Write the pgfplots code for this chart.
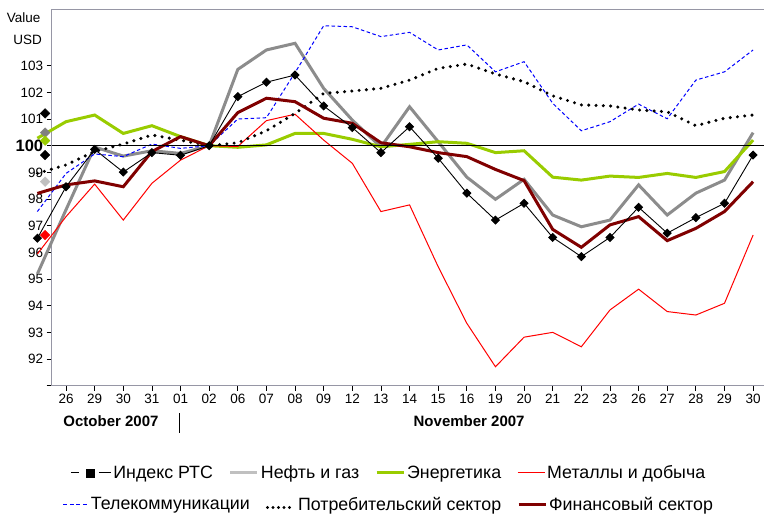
\documentclass[border=0pt]{standalone}
\usepackage{pgfplots}
\pgfplotsset{compat=1.18}
\usepackage{fontspec}
\setmainfont{Liberation Sans}
\definecolor{oilgray}{RGB}{140,140,140}
\definecolor{lightgr}{RGB}{192,192,192}
\definecolor{energy}{RGB}{153,204,0}
\definecolor{finred}{RGB}{128,0,0}
\definecolor{axgray}{RGB}{150,150,165}
\begin{document}
\begin{tikzpicture}
\path[use as bounding box] (-51.7pt,-130.3pt) rectangle (712.3pt,385.7pt);
\pgfplotsset{
  mainax/.style={scale only axis, width=714.3pt, height=376pt,
    xmin=-0.5, xmax=24.45, ymin=91, ymax=105.1, at={(0pt,0pt)}, anchor=south west},
  lgd/.style={font=\fontsize{17.8}{19}\selectfont, draw=none, fill=none, anchor=center,
    /tikz/every even column/.append style={column sep=14pt}},
}
\begin{axis}[mainax, clip=false,
  axis line style={axgray, line width=1pt},
  tick align=outside, major tick length=5pt,
  xtick pos=bottom, ytick pos=left,
  tick style={black, line width=0.8pt},
  tick label style={font=\fontsize{13.5}{15}\selectfont},
  ytick={91,92,...,103},
  yticklabels={,92,93,94,95,96,97,98,99,{\fontsize{16.5}{18}\selectfont\bfseries 100},101,102,103},
  xtick={0,1,...,24},
  xticklabels={26,29,30,31,01,02,06,07,08,09,12,13,14,15,16,19,20,21,22,23,26,27,28,29,30},
]
% Нефть и газ
\addplot[oilgray, line width=3pt] coordinates {
(-1,95.19)(0,97.6)(1,99.95)(2,99.61)(3,99.81)(4,99.71)(5,100.0)(6,102.86)(7,103.59)(8,103.84)(9,102.15)(10,100.96)(11,99.95)(12,101.46)(13,100.15)(14,98.82)(15,97.99)(16,98.74)(17,97.40)(18,96.96)(19,97.21)(20,98.53)(21,97.40)(22,98.22)(23,98.71)(24,100.49)};
% Энергетика
\addplot[energy, line width=3pt] coordinates {
(-1,100.28)(0,100.90)(1,101.15)(2,100.46)(3,100.75)(4,100.34)(5,100.0)(6,99.94)(7,100.03)(8,100.46)(9,100.46)(10,100.24)(11,99.96)(12,100.05)(13,100.15)(14,100.09)(15,99.74)(16,99.81)(17,98.82)(18,98.71)(19,98.86)(20,98.81)(21,98.96)(22,98.81)(23,99.03)(24,100.21)};
% Металлы и добыча
\addplot[red, line width=1pt] coordinates {
(-1,95.94)(0,97.34)(1,98.56)(2,97.21)(3,98.59)(4,99.46)(5,100.0)(6,99.97)(7,100.94)(8,101.18)(9,100.21)(10,99.34)(11,97.53)(12,97.78)(13,95.46)(14,93.34)(15,91.71)(16,92.82)(17,93.0)(18,92.46)(19,93.84)(20,94.62)(21,93.78)(22,93.65)(23,94.09)(24,96.65)};
% Телекоммуникации
\addplot[blue, line width=1pt, dash pattern=on 3.5pt off 2.5pt] coordinates {
(-1,97.53)(0,98.96)(1,99.69)(2,99.59)(3,100.06)(4,99.90)(5,100.0)(6,101.0)(7,101.05)(8,102.74)(9,104.5)(10,104.46)(11,104.09)(12,104.25)(13,103.59)(14,103.78)(15,102.77)(16,103.15)(17,101.59)(18,100.56)(19,100.90)(20,101.56)(21,101.01)(22,102.46)(23,102.77)(24,103.59)};
% Потребительский сектор
\addplot[black, line width=3.4pt, line cap=round, dash pattern=on 0pt off 7.3pt] coordinates {
(-1,98.96)(0,99.28)(1,99.78)(2,100.06)(3,100.40)(4,100.21)(5,100.0)(6,100.11)(7,100.56)(8,101.21)(9,101.96)(10,102.05)(11,102.15)(12,102.46)(13,102.90)(14,103.06)(15,102.69)(16,102.4)(17,101.87)(18,101.53)(19,101.49)(20,101.34)(21,101.27)(22,100.75)(23,101.03)(24,101.15)};
% Финансовый сектор
\addplot[finred, line width=3pt] coordinates {
(-1,98.21)(0,98.53)(1,98.68)(2,98.46)(3,99.78)(4,100.34)(5,100.0)(6,101.24)(7,101.78)(8,101.65)(9,101.03)(10,100.84)(11,100.11)(12,99.96)(13,99.74)(14,99.59)(15,99.11)(16,98.69)(17,96.86)(18,96.19)(19,97.03)(20,97.34)(21,96.44)(22,96.90)(23,97.53)(24,98.65)};
% Индекс РТС
\addplot[black, line width=0.9pt, mark=square*, mark size=2.8pt, mark options={rotate=45, solid}] coordinates {
(-1,96.53)(0,98.46)(1,99.86)(2,99.01)(3,99.74)(4,99.64)(5,100.0)(6,101.84)(7,102.38)(8,102.65)(9,101.49)(10,100.68)(11,99.74)(12,100.71)(13,99.53)(14,98.22)(15,97.21)(16,97.84)(17,96.56)(18,95.84)(19,96.56)(20,97.69)(21,96.72)(22,97.30)(23,97.84)(24,99.65)};
% left-side markers
\addplot[only marks, mark=square*, mark size=3.4pt, mark options={rotate=45, fill=black, draw=black}] coordinates {(-0.73,101.21)(-0.73,99.65)};
\addplot[only marks, mark=square*, mark size=3.4pt, mark options={rotate=45, fill=gray, draw=gray}] coordinates {(-0.73,100.49)};
\addplot[only marks, mark=square*, mark size=3.4pt, mark options={rotate=45, fill=energy, draw=energy}] coordinates {(-0.73,100.19)};
\addplot[only marks, mark=square*, mark size=3.4pt, mark options={rotate=45, fill=lightgr, draw=lightgr}] coordinates {(-0.73,98.65)};
\addplot[only marks, mark=square*, mark size=3.4pt, mark options={rotate=45, fill=red, draw=red}] coordinates {(-0.73,96.65)};
% 100 line
\draw[black, line width=1.5pt] (axis cs:-0.5,100) -- (axis cs:24.45,100);
% texts
\node[anchor=east, font=\fontsize{13.5}{15}\selectfont] at (axis cs:-0.77,104.79) {Value};
\node[anchor=east, font=\fontsize{13.5}{15}\selectfont] at (axis cs:-0.72,103.96) {USD};
\node[font=\fontsize{15}{17}\selectfont\bfseries] at (axis cs:1.57,89.68) {October 2007};
\node[font=\fontsize{15}{17}\selectfont\bfseries] at (axis cs:14.08,89.68) {November 2007};
\draw[black, line width=1pt] (axis cs:3.98,89.97) -- (axis cs:3.98,89.22);
\end{axis}
% legend row 1
\begin{axis}[mainax, hide axis, legend columns=4,
  legend style={lgd, at={(0.472,-0.232)}},
  legend image code/.code={\draw[#1] (0pt,0pt) -- (27pt,0pt);}]
\addlegendimage{legend image code/.code={\draw[black, line width=0.9pt] (0pt,0pt) -- (8pt,0pt); \fill[black] (15pt,-4pt) rectangle (23pt,4pt); \draw[black, line width=0.9pt] (28pt,0pt) -- (40pt,0pt);}}
\addlegendentry{Индекс РТС}
\addlegendimage{lightgr, line width=3pt}
\addlegendentry{Нефть и газ}
\addlegendimage{energy, line width=3pt}
\addlegendentry{Энергетика}
\addlegendimage{red, line width=1pt}
\addlegendentry{Металлы и добыча}
\end{axis}
% legend row 2
\begin{axis}[mainax, hide axis, legend columns=3,
  legend style={lgd, at={(0.472,-0.316)}},
  legend image code/.code={\draw[#1] (0pt,0pt) -- (27pt,0pt);}]
\addlegendimage{legend image code/.code={\draw[blue, line width=1.2pt, dash pattern=on 4pt off 2.5pt] (0pt,0pt) -- (25pt,0pt);}}
\addlegendentry{Телекоммуникации}
\addlegendimage{legend image code/.code={\draw[black, line width=3.2pt, line cap=round, dash pattern=on 0pt off 5.5pt] (2pt,-3pt) -- (29pt,-3pt);}}
\addlegendentry{Потребительский сектор}
\addlegendimage{finred, line width=3pt}
\addlegendentry{Финансовый сектор}
\end{axis}
\end{tikzpicture}
\end{document}
